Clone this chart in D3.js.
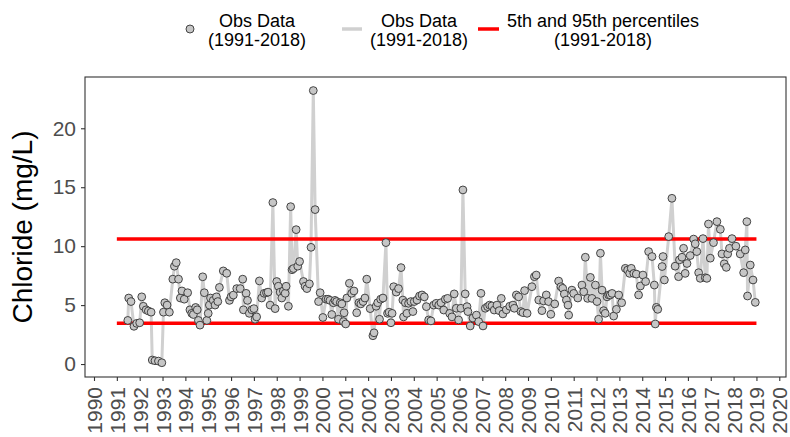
<!DOCTYPE html>
<html>
<head>
<meta charset="utf-8">
<script src="https://cdn.jsdelivr.net/npm/d3@7"></script>
<style>
  html, body { margin: 0; padding: 0; background: #fff; }
  svg { display: block; font-family: "Liberation Sans", Arial, sans-serif; }
</style>
</head>
<body>
<svg id="chart" width="790" height="437"></svg>
<script>
// ---- data (decimal year, chloride mg/L) ----
const obsYears = [
  1991.48,1991.52,1991.62,1991.75,1991.87,1992.00,1992.09,1992.16,1992.28,1992.38,
  1992.50,1992.55,1992.67,1992.82,1992.97,1993.04,1993.10,1993.20,1993.30,1993.45,
  1993.52,1993.60,1993.70,1993.78,1993.85,1993.95,1994.10,1994.20,1994.28,1994.35,
  1994.45,1994.52,1994.57,1994.64,1994.76,1994.83,1994.94,1995.00,1995.05,1995.10,
  1995.22,1995.30,1995.36,1995.42,1995.49,1995.66,1995.81,1995.93,1996.00,1996.10,
  1996.25,1996.40,1996.51,1996.54,1996.66,1996.72,1996.80,1996.91,1997.00,1997.05,
  1997.12,1997.24,1997.34,1997.45,1997.55,1997.62,1997.71,1997.83,1997.93,1998.00,
  1998.07,1998.15,1998.22,1998.29,1998.37,1998.41,1998.51,1998.61,1998.67,1998.73,
  1998.85,1998.92,1999.00,1999.17,1999.24,1999.32,1999.43,1999.50,1999.60,1999.68,
  1999.83,1999.90,2000.02,2000.16,2000.25,2000.33,2000.41,2000.48,2000.55,2000.62,
  2000.70,2000.78,2000.85,2000.92,2000.95,2001.02,2001.07,2001.18,2001.28,2001.38,
  2001.50,2001.60,2001.68,2001.78,2001.86,2001.94,2002.09,2002.21,2002.26,2002.35,
  2002.42,2002.50,2002.55,2002.65,2002.78,2002.85,2002.92,2003.00,2003.05,2003.12,
  2003.23,2003.33,2003.44,2003.52,2003.55,2003.63,2003.70,2003.77,2003.87,2003.96,
  2004.02,2004.14,2004.25,2004.36,2004.46,2004.55,2004.65,2004.75,2004.87,2004.98,
  2005.09,2005.19,2005.31,2005.38,2005.48,2005.57,2005.67,2005.77,2005.86,2005.96,
  2006.06,2006.15,2006.25,2006.33,2006.37,2006.47,2006.59,2006.74,2006.84,2006.94,
  2007.03,2007.13,2007.23,2007.32,2007.42,2007.52,2007.64,2007.74,2007.83,2007.90,
  2008.05,2008.20,2008.34,2008.40,2008.49,2008.59,2008.69,2008.78,2008.85,2008.96,
  2009.17,2009.28,2009.36,2009.47,2009.61,2009.68,2009.80,2009.90,2010.00,2010.17,
  2010.34,2010.44,2010.52,2010.59,2010.68,2010.75,2010.78,2010.92,2011.00,2011.18,
  2011.36,2011.44,2011.51,2011.61,2011.73,2011.80,2011.95,2012.02,2012.09,2012.17,
  2012.24,2012.31,2012.38,2012.46,2012.53,2012.60,2012.68,2012.75,2012.87,2012.97,
  2013.10,2013.26,2013.36,2013.45,2013.52,2013.63,2013.74,2013.84,2013.92,2014.03,
  2014.15,2014.28,2014.43,2014.53,2014.57,2014.62,2014.68,2014.87,2014.91,2014.97,
  2015.16,2015.30,2015.44,2015.59,2015.63,2015.74,2015.81,2015.88,2015.96,2016.10,
  2016.25,2016.32,2016.39,2016.47,2016.54,2016.66,2016.76,2016.83,2016.90,2016.98,
  2017.12,2017.27,2017.42,2017.49,2017.59,2017.68,2017.74,2017.82,2017.93,2018.10,
  2018.29,2018.44,2018.51,2018.58,2018.61,2018.73,2018.85,2018.95
];
const obsValues = [
  3.7,5.6,5.3,3.2,3.45,3.5,5.7,4.9,4.6,4.5,
  4.4,0.34,0.28,0.25,0.11,4.4,5.2,5.0,4.4,7.2,
  8.3,8.6,7.2,5.6,6.2,5.5,6.05,4.6,4.3,4.2,
  4.8,4.6,3.7,3.3,7.4,6.05,3.7,4.3,5.0,5.6,
  5.4,5.0,5.7,5.3,6.5,7.9,7.7,5.4,5.7,5.85,
  6.4,6.4,7.2,4.6,6.0,5.4,4.3,4.6,4.7,3.8,
  4.0,7.05,5.6,6.0,6.05,6.1,5.0,13.7,4.7,7.0,
  6.6,6.1,5.6,6.2,6.0,6.6,4.9,13.35,8.0,8.1,
  11.4,8.3,8.7,7.0,6.6,6.4,6.8,9.9,23.2,13.1,
  5.3,6.05,3.95,5.5,5.5,5.4,4.2,5.2,5.4,5.3,
  3.8,5.2,5.1,3.6,4.35,3.4,5.6,6.85,6.0,6.2,
  4.35,5.2,5.1,5.3,5.6,7.2,4.7,2.4,2.65,4.9,
  5.2,3.8,5.5,5.6,10.3,4.3,4.4,3.5,4.3,6.56,
  6.1,6.4,8.18,5.43,4.0,5.2,4.3,5.15,5.3,4.45,
  5.3,5.43,5.77,5.86,5.7,4.87,3.74,3.66,5.0,5.15,
  5.0,5.2,4.58,5.5,5.57,4.3,4.0,5.95,4.73,3.74,
  4.73,14.77,5.95,4.87,4.45,3.23,3.9,4.15,3.6,6.0,
  3.23,4.73,4.87,5.0,4.93,4.58,5.0,4.53,5.57,4.25,
  4.6,4.9,5.0,4.73,5.86,5.7,4.45,4.36,6.23,4.3,
  6.56,7.41,7.55,5.43,4.53,5.36,5.86,5.3,4.22,5.1,
  7.04,6.56,6.42,5.94,5.43,5.0,4.15,6.27,5.99,5.6,
  6.7,6.13,9.06,5.57,7.35,5.57,6.7,5.3,3.8,9.4,
  6.27,4.53,4.3,5.7,5.86,5.86,5.99,4.07,4.64,5.86,
  5.2,8.12,7.97,7.69,8.12,7.69,7.63,5.86,6.62,7.55,
  7.0,9.54,9.12,6.7,3.4,4.81,4.64,8.27,9.12,7.13,
  10.81,14.06,8.3,7.41,8.84,9.06,9.82,7.69,8.53,9.2,
  10.6,10.2,9.54,7.75,7.27,10.64,7.32,7.27,11.88,8.98,
  10.3,12.08,11.43,9.34,8.5,8.2,9.34,9.82,10.64,10.0,
  9.34,7.75,9.68,12.08,5.77,8.4,7.13,5.23
];
const percentileValues = [3.45, 10.6];   // 5th and 95th percentiles
const percentileSpan = [1991.0, 2019.0];
const yTicks = [0, 5, 10, 15, 20];
const xTicks = d3.range(1990, 2021);
const legendLabels = [
  ["Obs Data", "(1991-2018)"],
  ["Obs Data", "(1991-2018)"],
  ["5th and 95th percentiles", "(1991-2018)"]
];
const yTitle = "Chloride (mg/L)";

// ---- layout ----
const svg = d3.select("#chart");
const panel = { left: 85, right: 786, top: 77, bottom: 377 };

const x = d3.scaleLinear().domain([1989.606, 2020.294]).range([panel.left, panel.right]);
const y = d3.scaleLinear().domain([-1.1, 24.35]).range([panel.bottom, panel.top]);

const data = obsYears.map((t, i) => ({ t, v: obsValues[i] }));

const g = svg.append("g");

// grey connecting line
g.append("path")
  .datum(data)
  .attr("fill", "none")
  .attr("stroke", "#d0d0d0")
  .attr("stroke-width", 3)
  .attr("stroke-linejoin", "round")
  .attr("d", d3.line().x(d => x(d.t)).y(d => y(d.v)));

// percentile lines
g.selectAll("line.pct")
  .data(percentileValues)
  .join("line")
  .attr("class", "pct")
  .attr("x1", x(percentileSpan[0]))
  .attr("x2", x(percentileSpan[1]))
  .attr("y1", d => y(d))
  .attr("y2", d => y(d))
  .attr("stroke", "#ff0000")
  .attr("stroke-width", 3.5);

// points
g.selectAll("circle.obs")
  .data(data)
  .join("circle")
  .attr("class", "obs")
  .attr("cx", d => x(d.t))
  .attr("cy", d => y(d.v))
  .attr("r", 3.9)
  .attr("fill", "#c6c6c6")
  .attr("stroke", "#333333")
  .attr("stroke-width", 0.9);

// panel border
svg.append("rect")
  .attr("x", panel.left).attr("y", panel.top)
  .attr("width", panel.right - panel.left)
  .attr("height", panel.bottom - panel.top)
  .attr("fill", "none")
  .attr("stroke", "#333333")
  .attr("stroke-width", 1.1);

// y axis
const yAxis = d3.axisLeft(y).tickValues(yTicks).tickSize(4).tickPadding(5);
const yg = svg.append("g").attr("transform", `translate(${panel.left},0)`).call(yAxis);
yg.select(".domain").remove();
yg.selectAll(".tick line").attr("stroke", "#333333").attr("stroke-width", 1.1);
yg.selectAll(".tick text")
  .attr("fill", "#4d4d4d")
  .style("font-size", "21px")
  .style("font-family", "'Liberation Sans', Arial, sans-serif");

// x axis
const xAxis = d3.axisBottom(x).tickValues(xTicks).tickFormat(d3.format("d")).tickSize(4).tickPadding(5);
const xg = svg.append("g").attr("transform", `translate(0,${panel.bottom})`).call(xAxis);
xg.select(".domain").remove();
xg.selectAll(".tick line").attr("stroke", "#333333").attr("stroke-width", 1.1);
xg.selectAll(".tick text")
  .attr("fill", "#4d4d4d")
  .style("font-size", "21px")
  .style("font-family", "'Liberation Sans', Arial, sans-serif")
  .attr("text-anchor", "end")
  .attr("dy", null)
  .attr("dominant-baseline", "central")
  .attr("transform", "translate(0,10) rotate(-90)")
  .attr("x", 0)
  .attr("y", 0);

// y title
svg.append("text")
  .attr("transform", `translate(32,${(panel.top + panel.bottom) / 2}) rotate(-90)`)
  .attr("text-anchor", "middle")
  .attr("fill", "#000")
  .style("font-size", "28px")
  .text(yTitle);

// legend
const leg = svg.append("g");
const keyY = 29;
leg.append("circle").attr("cx", 190).attr("cy", keyY).attr("r", 4)
  .attr("fill", "#c6c6c6").attr("stroke", "#333333").attr("stroke-width", 0.9);
leg.append("line").attr("x1", 342).attr("x2", 362).attr("y1", keyY).attr("y2", keyY)
  .attr("stroke", "#d0d0d0").attr("stroke-width", 3.5);
leg.append("line").attr("x1", 478).attr("x2", 499).attr("y1", keyY).attr("y2", keyY)
  .attr("stroke", "#ff0000").attr("stroke-width", 3.5);
const textCenters = [257, 419, 603];
legendLabels.forEach((lines, i) => {
  const t = leg.append("text")
    .attr("text-anchor", "middle")
    .attr("fill", "#000")
    .style("font-size", "18px");
  lines.forEach((s, j) => {
    t.append("tspan").attr("x", textCenters[i]).attr("y", 27 + j * 19).text(s);
  });
});
</script>
</body>
</html>
